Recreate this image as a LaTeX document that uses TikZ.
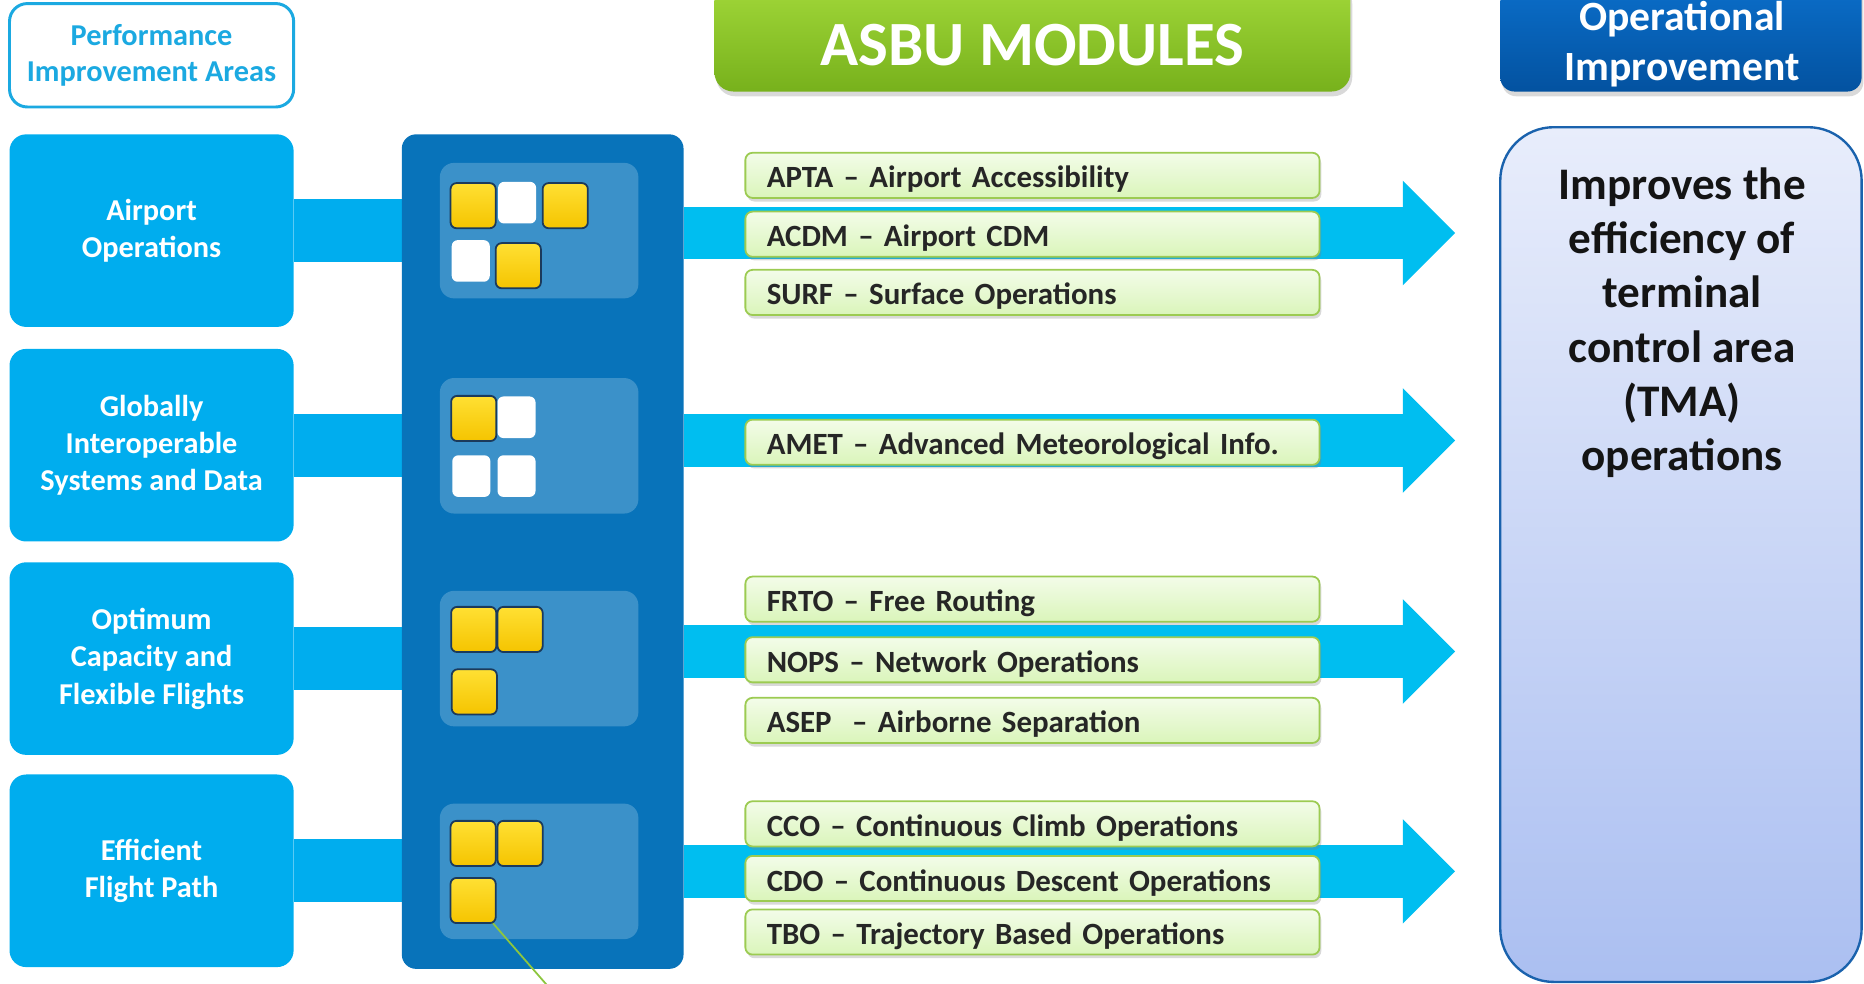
\documentclass[tikz,border=0pt]{standalone}
\usepackage{fontspec}
\setmainfont{Carlito}
\usetikzlibrary{shadows,arrows.meta,calc,backgrounds}
\definecolor{piaC}{HTML}{1BA9E1}
\definecolor{areaC}{HTML}{00ADEE}
\definecolor{colC}{HTML}{0873BA}
\definecolor{panelC}{HTML}{3B91C9}
\definecolor{arrC}{HTML}{00BEF0}
\definecolor{yTop}{HTML}{FFE033}
\definecolor{yBot}{HTML}{F5C400}
\definecolor{sqEdge}{HTML}{1B3A5C}
\definecolor{modTop}{HTML}{F3FCE9}
\definecolor{modBot}{HTML}{DAF5BA}
\definecolor{modEdge}{HTML}{9CCB52}
\definecolor{modText}{HTML}{262626}
\definecolor{asbuTop}{HTML}{A3D93A}
\definecolor{asbuBot}{HTML}{77B11C}
\definecolor{opTop}{HTML}{0B6FCB}
\definecolor{opBot}{HTML}{0352A0}
\definecolor{rTop}{HTML}{E8EDFB}
\definecolor{rBot}{HTML}{ABBFF1}
\definecolor{rEdge}{HTML}{1A62AD}
\definecolor{rText}{HTML}{141414}
\definecolor{gLine}{HTML}{8DC63F}
\begin{document}
\begin{tikzpicture}[x=1pt,y=-1pt,
  pia/.style={draw=piaC, line width=2.5pt, fill=white, rounded corners=15pt,
    minimum width=239pt, minimum height=87pt, text=piaC, align=center,
    font=\bfseries\fontsize{25.5}{31}\selectfont},
  area/.style={fill=areaC, rounded corners=14pt, minimum width=239pt,
    minimum height=162pt, text=white, align=center,
    font=\bfseries\fontsize{25.5}{31.5}\selectfont},
  linkbar/.style={draw=areaC, line width=53pt},
  column/.style={fill=colC, rounded corners=12pt, minimum width=237pt, minimum height=702pt},
  panel/.style={fill=panelC, rounded corners=12pt, minimum width=167pt, minimum height=114pt},
  ysq/.style={draw=sqEdge, line width=1.5pt, rounded corners=5pt, top color=yTop,
    bottom color=yBot, minimum width=38pt, minimum height=38pt, inner sep=0pt},
  wsq/.style={fill=white, rounded corners=5pt, minimum width=32pt, minimum height=35pt, inner sep=0pt},
  bigarrow/.style={draw=arrC, line width=44pt,
    -{Triangle[length=44pt,width=88pt,line width=0pt]}},
  module/.style={draw=modEdge, line width=1.5pt, rounded corners=6pt, top color=modTop,
    bottom color=modBot, minimum height=38pt, text width=447pt, inner xsep=18pt,
    inner ysep=0pt, text height=24pt, text depth=3pt, align=left, text=modText,
    font=\bfseries\fontsize{26}{31}\selectfont,
    drop shadow={shadow xshift=1.5pt, shadow yshift=-3pt, opacity=0.3}},
  asbubox/.style={top color=asbuTop, bottom color=asbuBot, rounded corners=16pt,
    minimum width=535pt, minimum height=94pt,
    drop shadow={shadow xshift=1.5pt, shadow yshift=-4pt, opacity=0.3}},
  opbox/.style={top color=opTop, bottom color=opBot, rounded corners=12pt,
    minimum width=304pt, minimum height=94pt,
    drop shadow={shadow xshift=1.5pt, shadow yshift=-4pt, opacity=0.3}},
  headtext/.style={text=white, align=center},
  rbox/.style={draw=rEdge, line width=2pt, top color=rTop, bottom color=rBot,
    rounded corners=45pt, minimum width=304pt, minimum height=719pt},
  gline/.style={draw=gLine, line width=1.5pt}
]
\clip (0,0) rectangle (1568,827);

% left column
\node[pia] (pia) at (127.5,46.5) {Performance\\Improvement Areas};
\node[area] (a1) at (127.5,194) {Airport\\Operations};
\node[area] (a2) at (127.5,374.5) {Globally\\Interoperable\\Systems and Data};
\node[area] (a3) at (127.5,554) {Optimum\\Capacity and\\Flexible Flights};
\node[area] (a4) at (127.5,732.5) {Efficient\\Flight Path};

% centre column
\node[column] (col) at (456.5,464) {};
\node[panel] (p1) at (453.5,194) {};
\node[panel] (p2) at (453.5,375) {};
\node[panel] (p3) at (453.5,554) {};
\node[panel] (p4) at (453.5,733) {};

\begin{scope}[on background layer]
  \draw[linkbar] (a1.east) -- (a1.east -| col.west);
  \draw[linkbar] (a2.east) -- (a2.east -| col.west);
  \draw[linkbar] (a3.east) -- (a3.east -| col.west);
  \draw[linkbar] (a4.east) -- (a4.east -| col.west);
  \coordinate (t1) at (1224,196);
  \coordinate (t2) at (1224,370.5);
  \coordinate (t3) at (1224,548);
  \coordinate (t4) at (1224,733);
  \draw[bigarrow] (col.east |- t1) -- (t1);
  \draw[bigarrow] (col.east |- t2) -- (t2);
  \draw[bigarrow] (col.east |- t3) -- (t3);
  \draw[bigarrow] (col.east |- t4) -- (t4);
\end{scope}

% squares, panel 1
\node[ysq] (s11) at (398,173) {};
\node[wsq] (s12) at (435,170.5) {};
\node[ysq] (s13) at (475.5,173) {};
\node[wsq] (s14) at (396,219.5) {};
\node[ysq] (s15) at (436,223.5) {};
% panel 2
\node[ysq] (s21) at (398.5,352) {};
\node[wsq] (s22) at (434.5,351) {};
\node[wsq] (s23) at (396.5,400.5) {};
\node[wsq] (s24) at (434.5,400.5) {};
% panel 3
\node[ysq] (s31) at (398.5,529.5) {};
\node[ysq] (s32) at (437.5,529.5) {};
\node[ysq] (s33) at (399,582) {};
% panel 4
\coordinate (gend) at (463,832);
\draw[gline] (398,757.5) -- (gend);
\node[ysq] (s41) at (398,709.5) {};
\node[ysq] (s42) at (437.5,709.5) {};
\node[ysq] (s43) at (398,757.5) {};

% modules
\node[module] (m1) at (868.5,147.5) {APTA – Airport Accessibility};
\node[module] (m2) at (868.5,197) {ACDM – Airport CDM};
\node[module] (m3) at (868.5,246) {SURF – Surface Operations};
\node[module] (m4) at (868.5,372) {AMET – Advanced Meteorological Info.};
\node[module] (m5) at (868.5,504) {FRTO – Free Routing};
\node[module] (m6) at (868.5,555) {NOPS – Network Operations};
\node[module] (m7) at (868.5,606) {ASEP~ – Airborne Separation};
\node[module] (m8) at (868.5,693) {CCO – Continuous Climb Operations};
\node[module] (m9) at (868.5,739) {CDO – Continuous Descent Operations};
\node[module] (m10) at (868.5,784) {TBO – Trajectory Based Operations};

% headers
\node[asbubox] (asbu) at (868.5,30) {};
\node[headtext, font=\bfseries\fontsize{53}{60}\selectfont] (asbut) at (868.5,38) {ASBU MODULES};
\node[opbox] (op) at (1414,30) {};
\node[headtext, font=\bfseries\fontsize{35}{42}\selectfont] (opt) at (1415,37) {Operational\\Improvement};

% right box
\node[rbox] (ob) at (1414,466.5) {};
\node[text=rText, align=center, font=\bfseries\fontsize{38}{45.6}\selectfont] (obt) at (1415,271.5)
  {Improves the\\efficiency of\\terminal\\control area\\(TMA)\\operations};
\end{tikzpicture}
\end{document}
